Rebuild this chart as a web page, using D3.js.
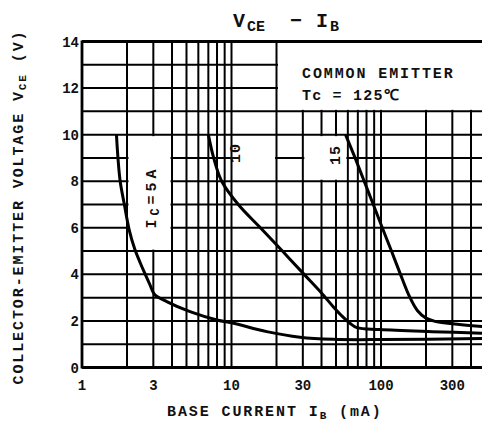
<!DOCTYPE html>
<html>
<head>
<meta charset="utf-8">
<script src="https://cdn.jsdelivr.net/npm/d3@7"></script>
<style>
  body { margin: 0; background: #fff; }
  svg { display: block; }
  text { font-family: "Liberation Mono", "DejaVu Sans Mono", monospace; font-weight: bold; fill: #111; }
</style>
</head>
<body>
<div class="chart"></div>
<script>
// DATA ------------------------------------
const xTickLabels = [1, 3, 10, 30, 100, 300];
const yTickLabels = [0, 2, 4, 6, 8, 10, 12, 14];

// Ic = 5 A
const ibIc5  = [1.7, 1.74, 1.8, 1.92, 2.07, 2.25, 2.45, 2.65, 2.85, 3.05, 3.69, 5.28, 8, 10.3, 17.2, 28.7, 48, 100, 500];
const vceIc5 = [10, 9, 8, 7, 5.9, 5.1, 4.5, 4, 3.55, 3.15, 2.83, 2.4, 2.04, 1.9, 1.54, 1.3, 1.21, 1.2, 1.25];
// Ic = 10 A
const ibIc10  = [7, 7.6, 8.6, 11.1, 15.6, 21.9, 30.6, 40, 47.9, 56, 62, 69, 98, 220, 500];
const vceIc10 = [10, 9, 8, 7, 6, 5, 4, 3.2, 2.61, 2.15, 1.9, 1.71, 1.63, 1.54, 1.47];
// Ic = 15 A
const ibIc15  = [57.9, 67.1, 77.2, 88.8, 102, 117.5, 135, 155, 175, 200, 230, 300, 500];
const vceIc15 = [10, 9, 8, 7, 6, 5, 4, 3.05, 2.45, 2.12, 1.98, 1.88, 1.75];

// blank cells of the grid that hold labels (data units)
const labelBoxes = [
  {x0: 2,  x1: 4,    y0: 5,  y1: 10},
  {x0: 10, x1: 20,   y0: 8,  y1: 10},
  {x0: 30, x1: 60,   y0: 8,  y1: 10},
  {x0: 20, x1: 1000, y0: 11, y1: 14}
];

// CHART INIT ------------------------------
const width = 482, height = 423;

const svg = d3.select(".chart").append("svg")
    .attr("width", width)
    .attr("height", height);

svg.append("rect").attr("width", width).attr("height", height).attr("fill", "#fff");

const x = d3.scaleLog().domain([1, 1000]).range([82, 530.5]);
const y = d3.scaleLinear().domain([0, 14]).range([367.5, 41.5]);

// GRID ------------------------------------
const grid = svg.append("g").attr("stroke", "#000").attr("stroke-width", 2);

grid.selectAll(".vline")
    .data(x.ticks())
    .enter().append("line")
    .attr("x1", d => x(d)).attr("x2", d => x(d))
    .attr("y1", y(0)).attr("y2", y(14));

grid.selectAll(".hline")
    .data(d3.range(0, 15))
    .enter().append("line")
    .attr("x1", x(1)).attr("x2", x(1000))
    .attr("y1", d => y(d)).attr("y2", d => y(d));

// white out the label cells, keep their border lines
const pad = 1.5;
svg.selectAll(".box")
    .data(labelBoxes)
    .enter().append("rect")
    .attr("x", d => x(d.x0) + pad)
    .attr("y", d => y(d.y1) + pad)
    .attr("width", d => x(d.x1) - x(d.x0) - 2 * pad)
    .attr("height", d => y(d.y0) - y(d.y1) - 2 * pad)
    .attr("fill", "#fff");

// frame
const frame = svg.append("g").attr("stroke", "#000").attr("stroke-width", 2.8);
frame.append("line").attr("x1", x(1)).attr("x2", x(1)).attr("y1", y(0) + 1).attr("y2", y(14) - 1);
frame.append("line").attr("x1", x(1)).attr("x2", x(1000)).attr("y1", y(0)).attr("y2", y(0));
frame.append("line").attr("x1", x(1)).attr("x2", x(1000)).attr("y1", y(14)).attr("y2", y(14));

// CURVES ----------------------------------
const line = d3.line()
    .x(d => x(d[0]))
    .y(d => y(d[1]))
    .curve(d3.curveCatmullRom.alpha(0.5));

[[ibIc5, vceIc5], [ibIc10, vceIc10], [ibIc15, vceIc15]].forEach(s => {
    svg.append("path")
        .datum(d3.zip(s[0], s[1]))
        .attr("d", line)
        .attr("fill", "none")
        .attr("stroke", "#000")
        .attr("stroke-width", 3)
        .attr("stroke-linejoin", "round");
});

// TICK LABELS -----------------------------
svg.selectAll(".xtick")
    .data(xTickLabels)
    .enter().append("text")
    .attr("x", d => x(d))
    .attr("y", 390)
    .attr("text-anchor", "middle")
    .attr("font-size", 14)
    .text(d => d);

svg.selectAll(".ytick")
    .data(yTickLabels)
    .enter().append("text")
    .attr("x", 79)
    .attr("y", d => y(d) + 5)
    .attr("text-anchor", "end")
    .attr("font-size", 14)
    .text(d => d);

// TITLES ----------------------------------
const title = svg.append("g");
title.append("text").attr("x", 233).attr("y", 27).attr("font-size", 20).text("V");
title.append("text").attr("x", 247).attr("y", 31).attr("font-size", 15).text("CE");
title.append("text").attr("x", 290).attr("y", 27).attr("font-size", 20).text("\u2212");
title.append("text").attr("x", 316).attr("y", 27).attr("font-size", 20).text("I");
title.append("text").attr("x", 330).attr("y", 31).attr("font-size", 15).text("B");

const xTitle = svg.append("text").attr("x", 167).attr("y", 416)
    .attr("font-size", 15).attr("letter-spacing", 1.9);
xTitle.append("tspan").text("BASE CURRENT  I");
xTitle.append("tspan").attr("font-size", 11).attr("dy", 3).text("B");
xTitle.append("tspan").attr("dy", -3).text(" (mA)");

const yTitle = svg.append("text")
    .attr("transform", "translate(23,207) rotate(-90)")
    .attr("text-anchor", "middle")
    .attr("font-size", 15).attr("letter-spacing", 1.9);
yTitle.append("tspan").text("COLLECTOR-EMITTER VOLTAGE  V");
yTitle.append("tspan").attr("font-size", 11).attr("dy", 3).text("CE");
yTitle.append("tspan").attr("dy", -3).text(" (V)");

// ANNOTATIONS -----------------------------
svg.append("text").attr("x", 302).attr("y", 78)
    .attr("font-size", 15).attr("letter-spacing", 1.9)
    .text("COMMON EMITTER");
svg.append("text").attr("x", 302).attr("y", 100)
    .attr("font-size", 15).attr("letter-spacing", 1.2)
    .text("Tc = 125\u2103");

const icLabel = svg.append("text")
    .attr("transform", "translate(156,197) rotate(-90)")
    .attr("text-anchor", "middle")
    .attr("font-size", 15).attr("letter-spacing", 4);
icLabel.append("tspan").text("I");
icLabel.append("tspan").attr("font-size", 12).attr("dy", 3).text("C");
icLabel.append("tspan").attr("dy", -3).text("=5A");

svg.append("text")
    .attr("transform", "translate(240,153) rotate(-90)")
    .attr("text-anchor", "middle")
    .attr("font-size", 15).attr("letter-spacing", 1)
    .text("10");

svg.append("text")
    .attr("transform", "translate(340,155) rotate(-90)")
    .attr("text-anchor", "middle")
    .attr("font-size", 15).attr("letter-spacing", 1)
    .text("15");
</script>
</body>
</html>
